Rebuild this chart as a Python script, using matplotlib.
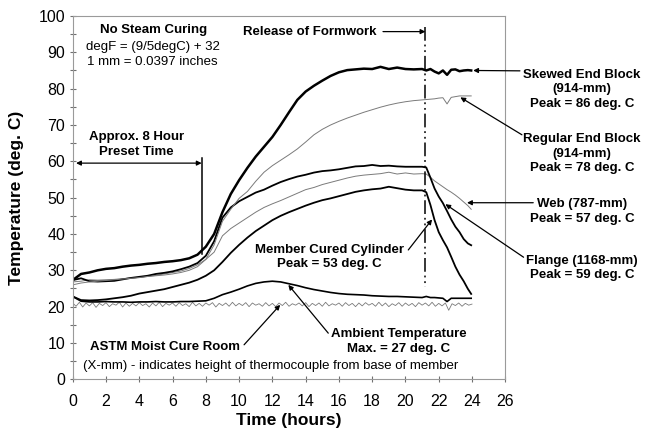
import numpy as np
import matplotlib
matplotlib.use("Agg")
import matplotlib.pyplot as plt
from matplotlib.ticker import MultipleLocator

plt.rcParams['font.family'] = ['Liberation Sans', 'DejaVu Sans']

# Time base for the member thermocouples (hours)
hours = np.concatenate([np.arange(0, 21.01, 0.5), np.arange(21.25, 23.76, 0.25), [23.95]])

skewed_end_block = [27.3, 29.0, 29.4, 30.0, 30.4, 30.6, 31.0, 31.3, 31.5, 31.8, 32.0, 32.3, 32.5, 32.8,
                    33.3, 34.3, 36.5, 40.0, 46.0, 51.0, 54.8, 58.2, 61.3, 64.0, 66.7, 70.0, 73.5, 76.9,
                    79.2, 80.8, 82.2, 83.5, 84.5, 85.1, 85.3, 85.5, 85.4, 86.0, 85.4, 85.8, 85.4, 85.3,
                    85.4,
                    85.0, 85.4, 84.7, 84.2, 85.0, 83.8, 85.2, 85.3, 84.8, 85.0, 85.1, 85.0]
regular_end_block = [26.0, 26.5, 26.8, 27.0, 27.2, 27.4, 27.6, 27.8, 28.0, 28.3, 28.5, 28.7, 29.0, 29.4,
                     30.0, 31.0, 33.0, 37.0, 43.5, 46.8, 49.8, 51.7, 54.5, 57.0, 58.8, 60.3, 61.8, 63.4,
                     65.3, 67.3, 68.8, 70.0, 71.0, 71.9, 72.7, 73.5, 74.2, 74.9, 75.5, 76.0, 76.4, 76.7,
                     76.9,
                     77.0, 77.1, 77.2, 77.4, 77.5, 75.8, 77.6, 77.8, 78.0, 78.0, 78.0, 78.0]
flange = [27.3, 27.8, 27.0, 26.9, 27.0, 27.1, 27.5, 27.9, 28.2, 28.5, 29.0, 29.3, 29.7, 30.3,
          31.0, 32.0, 34.0, 38.0, 44.5, 47.3, 49.0, 50.2, 51.4, 52.2, 53.3, 54.3, 55.1, 55.8,
          56.3, 56.9, 57.3, 57.5, 57.8, 58.2, 58.6, 58.7, 59.0, 58.7, 58.8, 58.6, 58.5, 58.5,
          58.5,
          58.3, 55.5, 52.5, 50.3, 48.5, 46.3, 44.0, 42.0, 40.5, 38.6, 37.4, 36.9]
web = [26.8, 27.0, 27.4, 27.3, 27.4, 27.5, 27.7, 27.9, 28.0, 28.3, 28.6, 29.0, 29.4, 29.8,
       30.5, 31.5, 33.0, 35.0, 39.5, 41.5, 43.0, 44.5, 46.0, 47.3, 48.3, 49.2, 50.2, 51.2,
       52.2, 52.8, 53.6, 54.2, 54.8, 55.4, 55.9, 56.2, 56.4, 56.6, 57.0, 56.5, 56.8, 56.5,
       56.6,
       56.5, 55.6, 54.6, 53.8, 53.0, 52.2, 51.5, 50.7, 49.8, 48.8, 47.8, 46.8]
member_cured_cylinder = [22.8, 21.8, 21.7, 21.8, 22.0, 22.3, 22.6, 23.0, 23.6, 24.0, 24.4, 24.8, 25.4, 26.0,
                         26.6, 27.4, 28.5, 30.0, 32.3, 34.8, 37.0, 39.0, 40.8, 42.3, 43.8, 45.0, 46.0, 46.9,
                         47.8, 48.6, 49.3, 49.8, 50.4, 51.0, 51.6, 52.0, 52.3, 52.5, 53.0, 52.6, 52.2, 52.0,
                         52.0,
                         51.5, 48.0, 43.8, 40.5, 38.3, 36.3, 33.7, 31.0, 28.8, 27.0, 24.9, 23.5]
ambient = [22.8, 21.5, 21.3, 21.3, 21.4, 21.3, 21.3, 21.2, 21.3, 21.3, 21.4, 21.3, 21.3, 21.4,
           21.4, 21.5, 21.6, 22.3, 23.3, 24.0, 24.8, 25.7, 26.4, 26.8, 27.0, 26.8, 26.3, 25.8,
           25.2, 24.7, 24.3, 23.9, 23.6, 23.4, 23.3, 23.2, 23.0, 22.9, 22.8, 22.8, 22.7, 22.6,
           22.5,
           22.8, 22.5, 22.5, 22.4, 22.3, 21.4, 22.3, 22.3, 22.3, 22.3, 22.3, 22.3]

# Moist cure room log, sampled every 0.2 h
astm_hours = np.arange(0, 24.01, 0.2)
astm_moist_room = [21.0, 20.1, 21.2, 19.9, 21.0, 20.2, 21.1, 19.8, 20.9, 20.3,
                   21.1, 20.0, 20.8, 20.4, 21.2, 19.9, 21.0, 20.1, 20.9, 20.2,
                   21.1, 20.3, 20.8, 19.9, 21.0, 20.2, 21.2, 20.0, 20.9, 20.4,
                   21.0, 20.1, 21.1, 20.3, 20.8, 20.0, 21.2, 20.2, 20.9, 20.1,
                   21.0, 20.4, 21.1, 19.9, 20.9, 20.3, 21.0, 20.1, 21.2, 20.2,
                   20.9, 20.3, 21.1, 20.0, 21.0, 20.4, 20.8, 20.1, 21.1, 20.2,
                   20.9, 20.0, 21.0, 20.3, 21.2, 20.1, 20.8, 20.4, 21.0, 20.2,
                   21.1, 20.0, 20.9, 20.3, 21.0, 20.1, 21.2, 20.2, 20.8, 20.4,
                   21.0, 20.1, 21.1, 20.3, 20.9, 20.0, 21.0, 20.2, 21.1, 20.4,
                   20.9, 20.1, 21.2, 20.2, 21.0, 20.0, 20.8, 20.3, 21.1, 20.1,
                   21.0, 20.3, 20.9, 20.0, 21.1, 20.4, 21.0, 20.2, 21.2, 20.1,
                   20.9, 20.2, 21.0, 19.0, 20.8, 20.3, 21.0, 20.1, 20.9, 20.4,
                   20.7]

formwork_release_h = 21.2
preset_h = 7.8

x_ticks = list(range(0, 27, 2))
y_ticks = list(range(0, 101, 10))

fig = plt.figure(figsize=(6.54, 4.32), dpi=100)
ax = fig.add_axes([0.1112, 0.122, 0.6614, 0.841])

gray = '#7a7a7a'
ax.plot(astm_hours, astm_moist_room, color=gray, lw=0.6)
ax.plot(hours, ambient, color='black', lw=1.2)
ax.plot(hours, member_cured_cylinder, color='black', lw=1.3)
ax.plot(hours, web, color=gray, lw=0.7)
ax.plot(hours, flange, color='black', lw=1.3)
ax.plot(hours, regular_end_block, color=gray, lw=0.7)
ax.plot(hours, skewed_end_block, color='black', lw=1.8)

ax.set_xlim(0, 26)
ax.set_ylim(0, 100)
ax.set_xticks(x_ticks)
ax.set_yticks(y_ticks)
ax.yaxis.set_minor_locator(MultipleLocator(5))
ax.tick_params(axis='both', which='major', direction='inout', length=5, width=0.8,
               color='#707070', labelsize=11.5)
ax.tick_params(axis='x', pad=8)
ax.tick_params(axis='y', pad=3)
ax.tick_params(axis='y', which='minor', direction='inout', length=4, width=0.8, color='#707070')
for side in ['left', 'bottom', 'top', 'right']:
    ax.spines[side].set_color('#9a9a9a')
    ax.spines[side].set_linewidth(0.8)

ax.set_xlabel('Time (hours)', fontsize=12.5, fontweight='bold', va='center')
ax.xaxis.set_label_coords(0.5, -0.113)
ax.set_ylabel('Temperature (deg. C)', fontsize=12.5, fontweight='bold', va='center')
ax.yaxis.set_label_coords(-0.131, 0.5)

fs = 9.5
bold = dict(fontsize=fs, fontweight='bold', ha='center', va='center')
arrow = dict(arrowstyle='-|>', color='black', lw=0.9, mutation_scale=7, shrinkA=0, shrinkB=0)

# Header notes
ax.text(4.84, 96.1, 'No Steam Curing', **bold)
ax.text(4.8, 91.5, 'degF = (9/5degC) + 32', fontsize=fs, ha='center', va='center')
ax.text(4.8, 87.3, '1 mm = 0.0397 inches', fontsize=fs, ha='center', va='center')

# Preset period
ax.text(3.85, 66.8, 'Approx. 8 Hour', **bold)
ax.text(3.85, 62.6, 'Preset Time', **bold)
ax.annotate('', xy=(0.2, 59.5), xytext=(7.75, 59.5),
            arrowprops=dict(arrowstyle='<|-|>', color='black', lw=0.9, mutation_scale=7,
                            shrinkA=0, shrinkB=0))
ax.plot([preset_h, preset_h], [61.0, 34.5], color='black', lw=1.1)

# Formwork release
ax.text(10.25, 95.7, 'Release of Formwork', fontsize=fs, fontweight='bold', ha='left', va='center')
ax.annotate('', xy=(formwork_release_h, 95.7), xytext=(18.65, 95.7), arrowprops=arrow)
ax.plot([formwork_release_h, formwork_release_h], [97.0, 25.5], color='black', lw=1.1,
        linestyle=(0, (9, 2.5, 1.2, 2.5, 1.2, 2.5)))

# Right-hand labels
ax.text(30.62, 79.8, 'Skewed End Block\n(914-mm)\nPeak = 86 deg. C', linespacing=1.25,
        clip_on=False, **bold)
ax.annotate('', xy=(24.07, 85.0), xytext=(26.88, 84.9), arrowprops=arrow, annotation_clip=False)
ax.text(30.62, 62.1, 'Regular End Block\n(914-mm)\nPeak = 78 deg. C', linespacing=1.25,
        clip_on=False, **bold)
ax.annotate('', xy=(23.3, 77.6), xytext=(27.0, 67.3), arrowprops=arrow, annotation_clip=False)
ax.text(30.62, 46.2, 'Web (787-mm)\nPeak = 57 deg. C', linespacing=1.25, clip_on=False, **bold)
ax.annotate('', xy=(23.7, 48.6), xytext=(27.68, 48.6), arrowprops=arrow, annotation_clip=False)
ax.text(30.62, 30.6, 'Flange (1168-mm)\nPeak = 59 deg. C', linespacing=1.25, clip_on=False, **bold)
ax.annotate('', xy=(22.4, 48.2), xytext=(27.1, 33.6), arrowprops=arrow, annotation_clip=False)

# Inside labels
ax.text(15.45, 33.6, 'Member Cured Cylinder\nPeak = 53 deg. C', linespacing=1.25, **bold)
ax.annotate('', xy=(21.6, 44.0), xytext=(20.17, 35.6), arrowprops=arrow)
ax.text(5.55, 9.0, 'ASTM Moist Cure Room', **bold)
ax.annotate('', xy=(12.47, 20.5), xytext=(10.3, 9.5), arrowprops=arrow)
ax.text(19.6, 10.4, 'Ambient Temperature\nMax. = 27 deg. C', linespacing=1.25, **bold)
ax.annotate('', xy=(12.96, 26.0), xytext=(15.36, 12.7), arrowprops=arrow)
ax.text(0.64, 3.66, '(X-mm) - indicates height of thermocouple from base of member',
        fontsize=fs, ha='left', va='center')

fig.savefig('out.png', dpi=100)
